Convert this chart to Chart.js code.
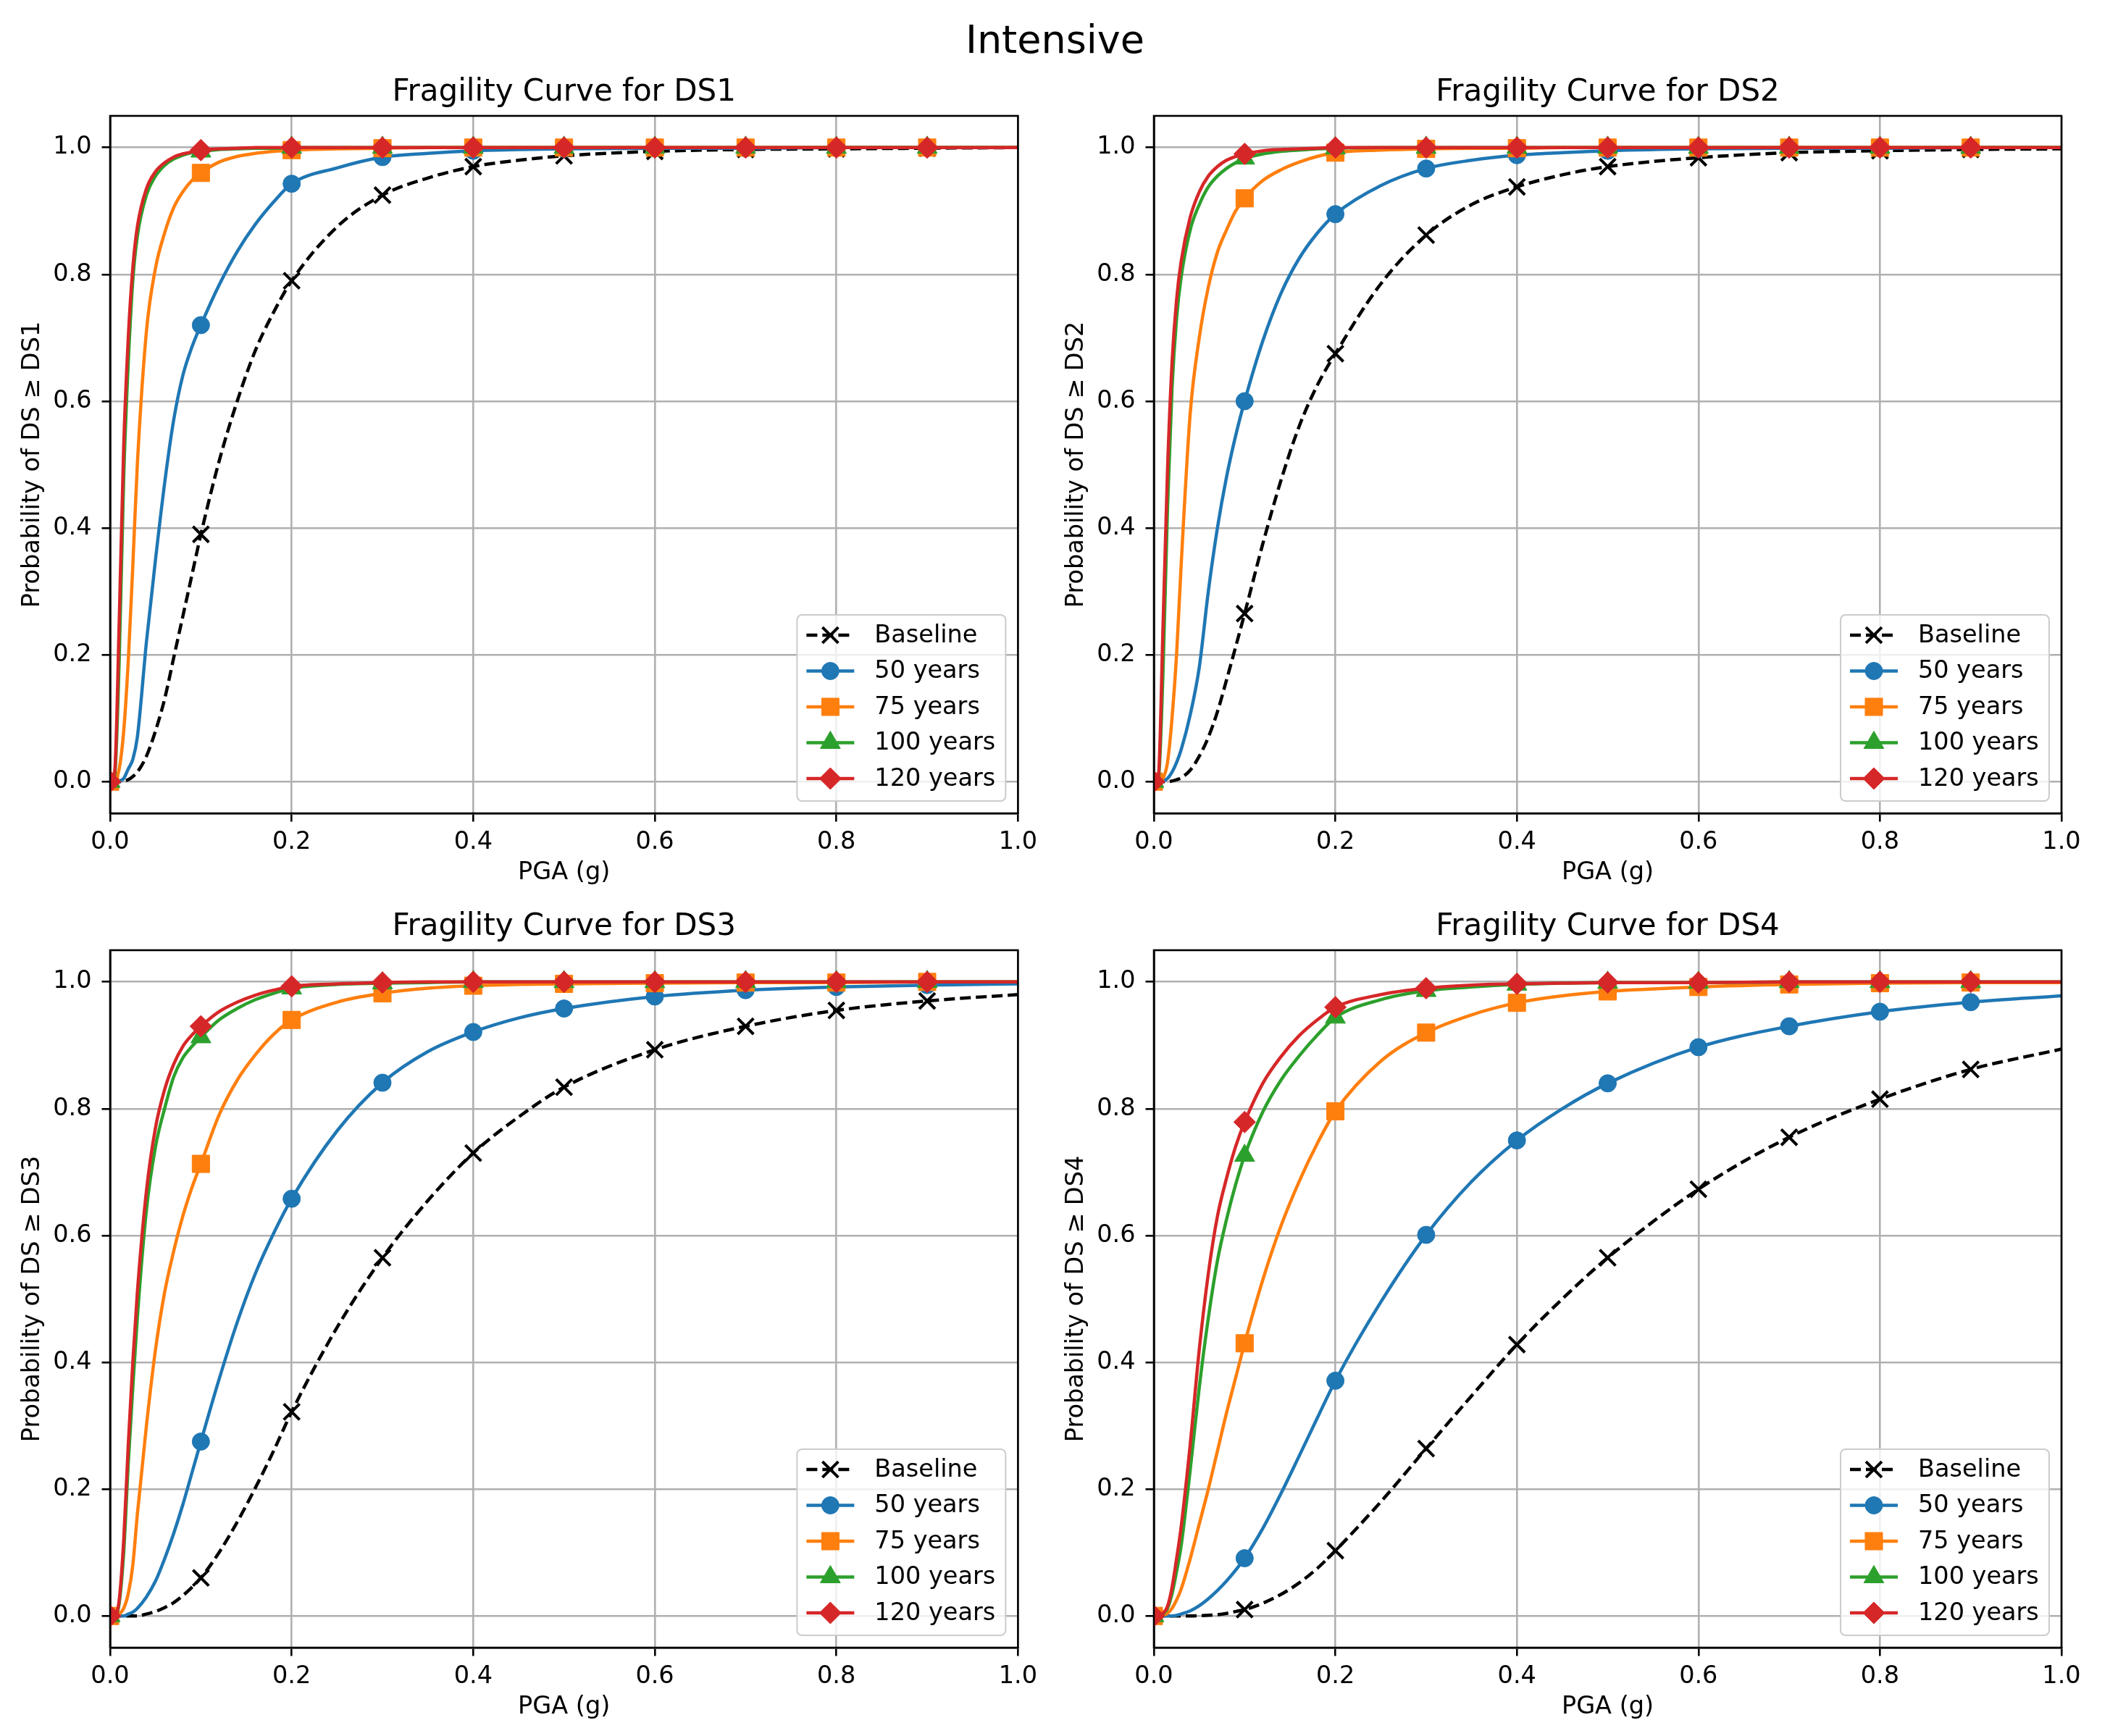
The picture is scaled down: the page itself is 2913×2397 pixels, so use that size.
<!DOCTYPE html>
<html>
<head>
<meta charset="utf-8">
<script src="https://cdn.jsdelivr.net/npm/chart.js@4/dist/chart.umd.min.js"></script>
<style>
  body { margin: 0; background: #fff; }
  #fig { position: relative; width: 2913px; height: 2397px; background: #fff; }
  #fig canvas { position: absolute; }
  #suptitle {
    position: absolute; left: 0; top: 28px; width: 2913px;
    text-align: center; font: 54px/54px "DejaVu Sans"; color: #000;
  }
  .ptitle {
    position: absolute; width: 1000px; text-align: center;
    font: 42px/42px "DejaVu Sans"; color: #000; white-space: nowrap;
  }
</style>
</head>
<body>
<div id="fig">
  <div id="suptitle">Intensive</div>
  <canvas id="ds1" width="1441" height="1135" style="left:0px;top:90px"></canvas>
  <canvas id="ds2" width="1472" height="1135" style="left:1441px;top:90px"></canvas>
  <canvas id="ds3" width="1441" height="1135" style="left:0px;top:1242px"></canvas>
  <canvas id="ds4" width="1472" height="1135" style="left:1441px;top:1242px"></canvas>
</div>
<script>
// PGA values (g) the curves were read at
const pga = [0, 0.005, 0.01, 0.015, 0.02, 0.025, 0.03, 0.04, 0.05, 0.06, 0.07, 0.08, 0.09, 0.1,
  0.12, 0.14, 0.16, 0.18, 0.2, 0.25, 0.3, 0.35, 0.4, 0.45, 0.5, 0.6, 0.7, 0.8, 0.9, 1.0];
// markers are only shown at these PGA values
const markerAt = [0, 0.1, 0.2, 0.3, 0.4, 0.5, 0.6, 0.7, 0.8, 0.9];
const xTicks = [0, 0.2, 0.4, 0.6, 0.8, 1.0];
const yTicks = [0, 0.2, 0.4, 0.6, 0.8, 1.0];
const seriesLabels = ["Baseline", "50 years", "75 years", "100 years", "120 years"];

// DS1
const ds1Baseline = [0, 0, 0, 0.001, 0.003, 0.008, 0.015, 0.04, 0.08, 0.13, 0.195, 0.26, 0.325, 0.39,
  0.505, 0.6, 0.68, 0.74, 0.79, 0.875, 0.925, 0.952, 0.97, 0.98, 0.987, 0.994, 0.997, 0.998, 0.999, 1];
const ds1Y50 = [0, 0, 0.001, 0.005, 0.02, 0.035, 0.07, 0.22, 0.35, 0.47, 0.57, 0.64, 0.685, 0.72,
  0.783, 0.836, 0.879, 0.914, 0.943, 0.968, 0.985, 0.991, 0.995, 0.997, 0.998, 0.999, 0.999, 1, 1, 1];
const ds1Y75 = [0, 0.002, 0.02, 0.08, 0.19, 0.34, 0.5, 0.71, 0.81, 0.865, 0.905, 0.93, 0.948, 0.96,
  0.977, 0.986, 0.991, 0.994, 0.996, 0.998, 0.999, 1, 1, 1, 1, 1, 1, 1, 1, 1];
const ds1Y100 = [0, 0.01, 0.19, 0.48, 0.66, 0.79, 0.86, 0.925, 0.955, 0.972, 0.982, 0.988, 0.992, 0.994,
  0.997, 0.998, 0.999, 0.999, 1, 1, 1, 1, 1, 1, 1, 1, 1, 1, 1, 1];
const ds1Y120 = [0, 0.015, 0.25, 0.53, 0.7, 0.81, 0.875, 0.935, 0.962, 0.976, 0.985, 0.99, 0.993, 0.996,
  0.998, 0.999, 1, 1, 1, 1, 1, 1, 1, 1, 1, 1, 1, 1, 1, 1];

// DS2
const ds2Baseline = [0, 0, 0, 0, 0.001, 0.003, 0.006, 0.018, 0.04, 0.07, 0.11, 0.16, 0.212, 0.265,
  0.375, 0.475, 0.56, 0.625, 0.675, 0.785, 0.862, 0.91, 0.938, 0.957, 0.97, 0.984, 0.992, 0.995, 0.997, 0.998];
const ds2Y50 = [0, 0, 0.001, 0.005, 0.015, 0.03, 0.05, 0.105, 0.18, 0.3, 0.4, 0.48, 0.545, 0.6,
  0.695, 0.77, 0.825, 0.865, 0.895, 0.94, 0.967, 0.98, 0.988, 0.992, 0.995, 0.998, 0.999, 0.999, 1, 1];
const ds2Y75 = [0, 0, 0.005, 0.03, 0.1, 0.2, 0.34, 0.58, 0.7, 0.78, 0.835, 0.87, 0.9, 0.92,
  0.948, 0.965, 0.977, 0.986, 0.992, 0.996, 0.998, 0.999, 0.999, 1, 1, 1, 1, 1, 1, 1];
const ds2Y100 = [0, 0.005, 0.17, 0.43, 0.62, 0.73, 0.795, 0.87, 0.91, 0.938, 0.955, 0.967, 0.976, 0.983,
  0.99, 0.994, 0.996, 0.998, 0.999, 1, 1, 1, 1, 1, 1, 1, 1, 1, 1, 1];
const ds2Y120 = [0, 0.01, 0.24, 0.49, 0.66, 0.76, 0.82, 0.89, 0.93, 0.955, 0.97, 0.98, 0.986, 0.99,
  0.995, 0.997, 0.998, 0.999, 1, 1, 1, 1, 1, 1, 1, 1, 1, 1, 1, 1];

// DS3
const ds3Baseline = [0, 0, 0, 0, 0, 0, 0, 0.003, 0.007, 0.013, 0.021, 0.032, 0.045, 0.06,
  0.1, 0.148, 0.202, 0.26, 0.322, 0.455, 0.565, 0.655, 0.73, 0.787, 0.834, 0.893, 0.93, 0.955, 0.97, 0.98];
const ds3Y50 = [0, 0, 0, 0, 0.003, 0.006, 0.012, 0.03, 0.055, 0.09, 0.13, 0.175, 0.225, 0.275,
  0.373, 0.463, 0.54, 0.603, 0.658, 0.765, 0.841, 0.89, 0.921, 0.943, 0.958, 0.977, 0.987, 0.992, 0.995, 0.997];
const ds3Y75 = [0, 0, 0.003, 0.012, 0.035, 0.08, 0.16, 0.3, 0.42, 0.51, 0.575, 0.63, 0.675, 0.713,
  0.79, 0.845, 0.885, 0.917, 0.94, 0.968, 0.982, 0.99, 0.994, 0.996, 0.997, 0.998, 0.999, 0.999, 1, 1];
const ds3Y100 = [0, 0, 0.02, 0.1, 0.24, 0.36, 0.47, 0.64, 0.74, 0.8, 0.85, 0.88, 0.898, 0.913,
  0.94, 0.958, 0.972, 0.982, 0.99, 0.996, 0.998, 0.999, 1, 1, 1, 1, 1, 1, 1, 1];
const ds3Y120 = [0, 0, 0.025, 0.12, 0.27, 0.4, 0.51, 0.67, 0.77, 0.83, 0.87, 0.898, 0.916, 0.93,
  0.953, 0.968, 0.979, 0.987, 0.993, 0.997, 0.999, 1, 1, 1, 1, 1, 1, 1, 1, 1];

// DS4
const ds4Baseline = [0, 0, 0, 0, 0, 0, 0, 0, 0.0005, 0.001, 0.002, 0.004, 0.007, 0.01,
  0.02, 0.034, 0.052, 0.075, 0.103, 0.18, 0.264, 0.347, 0.428, 0.5, 0.565, 0.673, 0.755, 0.815, 0.862, 0.894];
const ds4Y50 = [0, 0, 0, 0, 0, 0.001, 0.003, 0.008, 0.016, 0.027, 0.04, 0.055, 0.072, 0.091,
  0.138, 0.193, 0.252, 0.312, 0.371, 0.495, 0.601, 0.685, 0.75, 0.8, 0.84, 0.897, 0.93, 0.953, 0.968, 0.978];
const ds4Y75 = [0, 0, 0.001, 0.004, 0.012, 0.025, 0.042, 0.09, 0.145, 0.2, 0.26, 0.32, 0.375, 0.43,
  0.53, 0.615, 0.685, 0.745, 0.796, 0.875, 0.92, 0.948, 0.967, 0.978, 0.985, 0.992, 0.996, 0.998, 0.999, 0.999];
const ds4Y100 = [0, 0, 0.003, 0.012, 0.035, 0.07, 0.11, 0.23, 0.36, 0.47, 0.56, 0.625, 0.68, 0.726,
  0.795, 0.845, 0.883, 0.916, 0.944, 0.972, 0.986, 0.992, 0.996, 0.998, 0.999, 0.999, 1, 1, 1, 1];
const ds4Y120 = [0, 0, 0.004, 0.015, 0.045, 0.09, 0.14, 0.27, 0.42, 0.54, 0.63, 0.69, 0.74, 0.779,
  0.84, 0.882, 0.915, 0.94, 0.96, 0.98, 0.99, 0.995, 0.997, 0.998, 0.999, 0.999, 1, 1, 1, 1];

const panels = [
  { id: "ds1", title: "Fragility Curve for DS1", yLabel: "Probability of DS \u2265 DS1", padRight: 35,
    series: [ds1Baseline, ds1Y50, ds1Y75, ds1Y100, ds1Y120] },
  { id: "ds2", title: "Fragility Curve for DS2", yLabel: "Probability of DS \u2265 DS2", padRight: 67,
    series: [ds2Baseline, ds2Y50, ds2Y75, ds2Y100, ds2Y120] },
  { id: "ds3", title: "Fragility Curve for DS3", yLabel: "Probability of DS \u2265 DS3", padRight: 35,
    series: [ds3Baseline, ds3Y50, ds3Y75, ds3Y100, ds3Y120] },
  { id: "ds4", title: "Fragility Curve for DS4", yLabel: "Probability of DS \u2265 DS4", padRight: 67,
    series: [ds4Baseline, ds4Y50, ds4Y75, ds4Y100, ds4Y120] }
];

// matplotlib-like look for each series
const seriesStyle = [
  { color: "#000000", dash: [15, 7], marker: "crossRot", radius: 15.5, markerBorder: 4 },
  { color: "#1f77b4", dash: [], marker: "circle", radius: 12, markerBorder: 1 },
  { color: "#ff7f0e", dash: [], marker: "rect", radius: 17, markerBorder: 1 },
  { color: "#2ca02c", dash: [], marker: "triangle", radius: 16, markerBorder: 1 },
  { color: "#d62728", dash: [], marker: "rectRot", radius: 15, markerBorder: 1 }
];
const lineW = 4.5;
const fontPx = 33.5;

Chart.defaults.font.family = "DejaVu Sans";
Chart.defaults.color = "#000";

// black box round the plot area (top and right spines too)
const frame = {
  id: "frame",
  afterDatasetsDraw(chart) {
    const a = chart.chartArea, ctx = chart.ctx;
    ctx.save();
    ctx.strokeStyle = "#000";
    ctx.lineWidth = 2.6;
    ctx.strokeRect(a.left, a.top, a.right - a.left, a.bottom - a.top);
    ctx.restore();
  }
};

// legend in the lower right corner of the plot area
const cornerLegend = {
  id: "cornerLegend",
  afterDraw(chart) {
    const a = chart.chartArea, ctx = chart.ctx;
    const w = 288, h = 257;
    const left = a.right - 17 - w, top = a.bottom - 17 - h;
    ctx.save();
    ctx.beginPath();
    ctx.roundRect(left, top, w, h, 7);
    ctx.fillStyle = "rgba(255,255,255,0.8)";
    ctx.fill();
    ctx.strokeStyle = "#cccccc";
    ctx.lineWidth = 2;
    ctx.stroke();
    chart.data.datasets.forEach((ds, k) => {
      const st = seriesStyle[k];
      const y = top + 28 + k * 49.5;
      ctx.strokeStyle = st.color;
      ctx.fillStyle = st.color;
      ctx.lineWidth = lineW;
      ctx.setLineDash(st.dash);
      ctx.beginPath();
      ctx.moveTo(left + 13, y);
      ctx.lineTo(left + 79, y);
      ctx.stroke();
      ctx.setLineDash([]);
      ctx.lineWidth = st.markerBorder;
      Chart.helpers.drawPoint(ctx, { pointStyle: st.marker, radius: st.radius, rotation: 0, borderWidth: st.markerBorder }, left + 46, y);
      ctx.fillStyle = "#000";
      ctx.font = fontPx + "px 'DejaVu Sans'";
      ctx.textBaseline = "middle";
      ctx.textAlign = "left";
      ctx.fillText(ds.label, left + 107, y + 1);
    });
    ctx.restore();
  }
};

const fig = document.getElementById("fig");

panels.forEach(p => {
  const canvas = document.getElementById(p.id);
  const datasets = p.series.map((ys, k) => {
    const st = seriesStyle[k];
    return {
      label: seriesLabels[k],
      data: pga.map((x, i) => ({ x: x, y: ys[i] })),
      borderColor: st.color,
      backgroundColor: st.color,
      borderWidth: lineW,
      borderDash: st.dash,
      cubicInterpolationMode: "monotone",
      pointStyle: st.marker,
      pointRadius: c => (c.raw && markerAt.includes(c.raw.x)) ? st.radius : 0,
      pointBackgroundColor: st.color,
      pointBorderColor: st.color,
      pointBorderWidth: st.markerBorder,
      fill: false,
      order: 5 - k
    };
  });

  const chart = new Chart(canvas, {
    type: "line",
    data: { datasets },
    options: {
      responsive: false,
      animation: false,
      devicePixelRatio: 1,
      events: [],
      layout: { padding: { left: 0, right: p.padRight, top: 70, bottom: 0 } },
      plugins: {
        legend: { display: false },
        tooltip: { enabled: false },
        title: { display: false }
      },
      scales: {
        x: {
          type: "linear", min: 0, max: 1,
          afterBuildTicks: s => { s.ticks = xTicks.map(v => ({ value: v })); },
          afterFit: s => { s.height = 102; },
          ticks: { font: { size: fontPx }, color: "#000", padding: 9, maxRotation: 0, autoSkip: false,
                   callback: v => v.toFixed(1) },
          grid: { color: "#b0b0b0", lineWidth: 2.6, tickColor: "#000", tickLength: 11.5, tickWidth: 2.6 },
          border: { color: "#000", width: 2.6 },
          title: { display: true, text: "PGA (g)", color: "#000", font: { size: fontPx }, padding: { top: 0, bottom: 0 } }
        },
        y: {
          type: "linear", min: -0.05, max: 1.05,
          afterBuildTicks: s => { s.ticks = yTicks.map(v => ({ value: v })); },
          afterFit: s => { s.width = 152; },
          ticks: { font: { size: fontPx }, color: "#000", padding: 14, autoSkip: false,
                   callback: v => v.toFixed(1) },
          grid: { color: "#b0b0b0", lineWidth: 2.6, tickColor: "#000", tickLength: 11.5, tickWidth: 2.6 },
          border: { color: "#000", width: 2.6 },
          title: { display: true, text: p.yLabel, color: "#000", font: { size: fontPx }, padding: { top: 25, bottom: 0 } }
        }
      }
    },
    plugins: [frame, cornerLegend]
  });

  // subplot title, centred over the plot area like matplotlib does
  const a = chart.chartArea;
  const t = document.createElement("div");
  t.className = "ptitle";
  t.textContent = p.title;
  t.style.left = (canvas.offsetLeft + (a.left + a.right) / 2 - 500) + "px";
  t.style.top = (canvas.offsetTop + a.top - 56) + "px";
  fig.appendChild(t);
});
</script>
</body>
</html>
